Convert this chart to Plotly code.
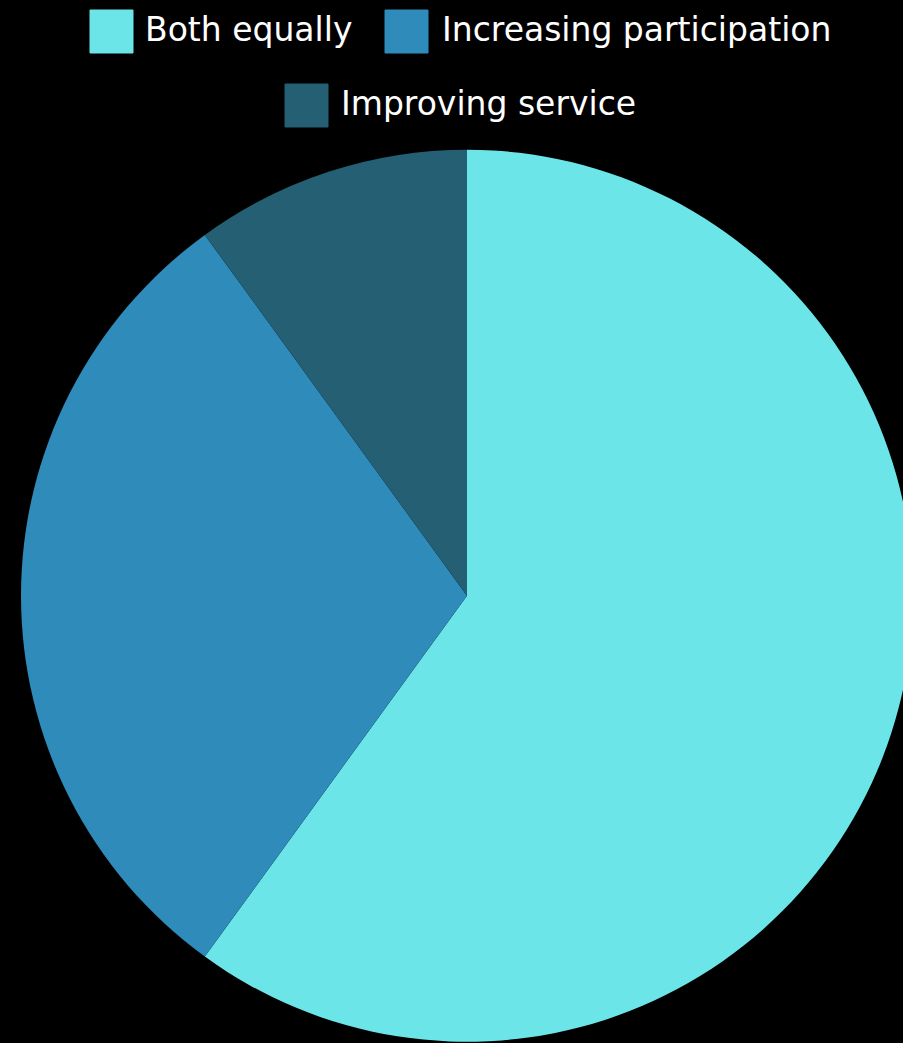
import plotly.graph_objects as go

labels = ["Both equally", "Increasing participation", "Improving service"]
values = [60, 30, 10]
colors = ["#6be5e8", "#2e8bba", "#245f73"]

W, H = 926, 1043

def px(x):
    return x / W

def py(y):
    return 1 - y / H

fig = go.Figure()
fig.add_trace(go.Pie(
    labels=labels,
    values=values,
    marker=dict(colors=colors, line=dict(width=0)),
    sort=False,
    direction="clockwise",
    rotation=0,
    textinfo="none",
    hoverinfo="label+value",
    showlegend=False,
    domain=dict(x=[px(21), px(913)], y=[py(1042), py(149.5)]),
))

# custom legend (Chart.js style boxes)
legend_items = [
    # swatch x0, y0, text x, text y center
    (90, 10, 143, 30),
    (385, 10, 440, 30),
    (285, 84, 339, 103),
]
shapes = []
annotations = []
for (sx, sy, tx, ty), lab, col in zip(legend_items, labels, colors):
    shapes.append(dict(
        type="rect", xref="paper", yref="paper",
        x0=px(sx), x1=px(sx + 43), y0=py(sy + 43), y1=py(sy),
        fillcolor=col, line=dict(color=col, width=1),
    ))
    annotations.append(dict(
        text=lab, xref="paper", yref="paper",
        x=px(tx), y=py(ty), xanchor="left", yanchor="middle",
        showarrow=False,
        font=dict(family="DejaVu Sans, sans-serif", size=33, color="#ffffff"),
    ))

fig.update_layout(
    width=W, height=H,
    margin=dict(l=0, r=0, t=0, b=0),
    paper_bgcolor="#000000",
    plot_bgcolor="#000000",
    shapes=shapes,
    annotations=annotations,
    showlegend=False,
)

fig.write_html(
    "out.html",
    post_script="document.body.style.margin='0';document.body.style.overflow='hidden';document.documentElement.style.overflow='hidden';",
)
